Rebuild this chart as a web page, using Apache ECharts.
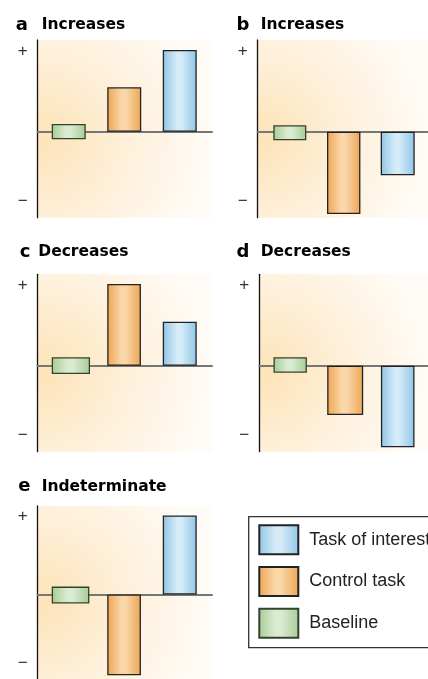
<!DOCTYPE html>
<html>
<head>
<meta charset="utf-8">
<script src="https://cdn.jsdelivr.net/npm/echarts@6/dist/echarts.min.js"></script>
<style>
    html, body {margin: 0; padding: 0; background: #fff;}
    #main {width: 428px; height: 679px;}
</style>
</head>
<body>
<div id="main"></div>
<script>
// panels a..e, values in arbitrary units (zero = baseline line)
var panelLetters = ['a', 'b', 'c', 'd', 'e'];
var panelTitles = ['Increases', 'Increases', 'Decreases', 'Decreases', 'Indeterminate'];
var slots = [1, 2, 3];   // baseline, control task, task of interest
var baselineLow = [-7.6, -8.6, -8.3, -7, -9.3];
var baselineHigh = [7.7, 6.4, 8.4, 8.4, 8];
var controlTask = [44.4, -82.3, 81.7, -49.3, -82.3];
var taskOfInterest = [81.7, -43.6, 44, -81.6, 80.3];
var signTicks = [80, -70];
var signLabels = ['+', '\u2212'];
var legendNames = ['Task of interest', 'Control task', 'Baseline'];

// layout
var gridLeft = [37.7, 257.7, 37.7, 259.3, 37.7];
var gridTop = [40, 40, 274.3, 274.3, 506];
var gridWidth = [174.3, 170.3, 174.3, 168.7, 174.3];
var yMin = -86;
var yMax = [91.7, 91.7, 91.4, 91.4, 90];
var xMin = [0.441, 0.393, 0.441, 0.423, 0.441];
var xMax = [3.581, 3.564, 3.581, 3.564, 3.581];
var greenWidth = [34, 33, 38.3, 33.4, 37.6];
var orangeWidth = [34, 33.4, 33.7, 36, 33.7];
var blueWidth = [34, 34, 34, 33.6, 34];
var titleY = [25, 25, 252.3, 252.3, 486.7];
var letterRight = [28, 249.5, 30.5, 249.5, 30.5];
var wordLeft = [41.7, 260.7, 38.3, 260.7, 41.7];

var barFill = function (edge, mid) {
    return new echarts.graphic.LinearGradient(0, 0, 1, 0, [
        {offset: 0, color: edge},
        {offset: 0.42, color: mid},
        {offset: 0.55, color: mid},
        {offset: 1, color: edge}
    ]);
};
var panelFill = new echarts.graphic.RadialGradient(0.03, 0.55, 1.0, [
    {offset: 0, color: '#fde3b8'},
    {offset: 0.45, color: '#feefd8'},
    {offset: 1, color: '#fffcf8'}
]);
var greenStyle = {color: barFill('#a6cc95', '#dbebd2'), borderColor: '#34412f', borderWidth: 1.3};
var orangeStyle = {color: barFill('#eda553', '#f9d7a8'), borderColor: '#222', borderWidth: 1.3};
var blueStyle = {color: barFill('#8fc5e7', '#d5ebf7'), borderColor: '#222', borderWidth: 1.3};

var grids = [], xAxes = [], yAxes = [], series = [], graphics = [];
panelLetters.forEach(function (letter, i) {
    grids.push({
        left: gridLeft[i], top: gridTop[i], width: gridWidth[i], height: yMax[i] - yMin,
        show: true, backgroundColor: panelFill, borderWidth: 0
    });
    xAxes.push({
        type: 'value', gridIndex: i, min: xMin[i], max: xMax[i],
        axisLine: {show: true, onZero: true, lineStyle: {color: '#767676', width: 2}},
        axisTick: {show: false}, axisLabel: {show: false}, splitLine: {show: false}
    });
    yAxes.push({
        type: 'value', gridIndex: i, min: yMin, max: yMax[i],
        axisLine: {show: true, onZero: false, lineStyle: {color: '#111', width: 1.3}},
        axisTick: {show: false}, splitLine: {show: false},
        axisLabel: {
            customValues: signTicks,
            formatter: function (v) {
                return signLabels[signTicks.indexOf(v)];
            },
            margin: 10, fontSize: 17, color: '#333', fontFamily: 'Liberation Sans'
        }
    });
    // data is [value, slot]; value first so the stack runs along y
    var common = {type: 'bar', xAxisIndex: i, yAxisIndex: i, barGap: '-100%', encode: {x: 1, y: 0}};
    series.push(Object.assign({}, common, {
        name: 'offset', stack: 'g' + i, stackStrategy: 'all', barWidth: greenWidth[i], silent: true,
        itemStyle: {color: 'transparent', borderWidth: 0},
        data: [[baselineLow[i], slots[0]]]
    }));
    series.push(Object.assign({}, common, {
        name: 'Baseline', stack: 'g' + i, stackStrategy: 'all', barWidth: greenWidth[i],
        itemStyle: greenStyle,
        data: [[baselineHigh[i] - baselineLow[i], slots[0]]]
    }));
    series.push(Object.assign({}, common, {
        name: 'Control task', barWidth: orangeWidth[i], itemStyle: orangeStyle,
        data: [[controlTask[i], slots[1]]]
    }));
    series.push(Object.assign({}, common, {
        name: 'Task of interest', barWidth: blueWidth[i], itemStyle: blueStyle,
        data: [[taskOfInterest[i], slots[2]]]
    }));
    graphics.push({
        type: 'text', x: letterRight[i], y: titleY[i],
        style: {text: letter, font: 'bold 18px "DejaVu Sans"', fill: '#000', textAlign: 'right', textVerticalAlign: 'middle'}
    });
    graphics.push({
        type: 'text', x: wordLeft[i], y: titleY[i],
        style: {text: panelTitles[i], font: 'bold 15.5px "DejaVu Sans"', fill: '#000', textAlign: 'left', textVerticalAlign: 'middle'}
    });
});

var myChart = echarts.init(document.getElementById('main'));
myChart.setOption({
    animation: false,
    grid: grids,
    xAxis: xAxes,
    yAxis: yAxes,
    series: series,
    graphic: graphics,
    legend: {
        orient: 'vertical', left: 248.7, top: 516.7,
        data: legendNames, selectedMode: false, icon: 'rect',
        itemWidth: 39, itemHeight: 29, itemGap: 10.7,
        padding: [7.6, 12, 9, 9.6], borderColor: '#333', borderWidth: 1.3,
        textStyle: {fontSize: 18, color: '#222', fontFamily: 'Liberation Sans', padding: [0, 0, 0, 6]}
    }
});
</script>
</body>
</html>
